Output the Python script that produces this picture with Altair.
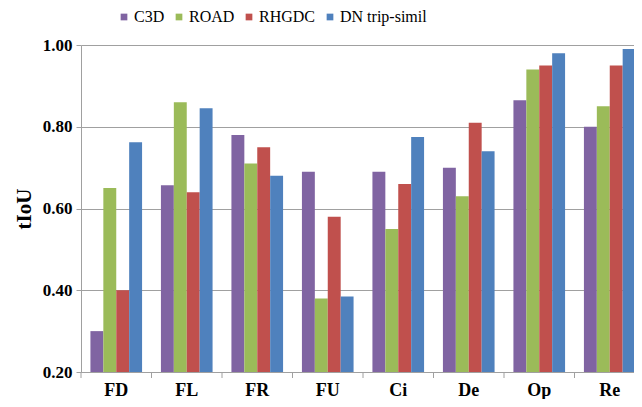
import altair as alt
import pandas as pd

categories = ["FD", "FL", "FR", "FU", "Ci", "De", "Op", "Re"]
series = ["C3D", "ROAD", "RHGDC", "DN trip-simil"]
c3d = [0.30, 0.657, 0.78, 0.69, 0.69, 0.70, 0.865, 0.80]
road = [0.65, 0.86, 0.71, 0.38, 0.55, 0.63, 0.94, 0.85]
rhgdc = [0.40, 0.64, 0.75, 0.58, 0.66, 0.81, 0.95, 0.95]
dn = [0.762, 0.845, 0.68, 0.385, 0.775, 0.74, 0.98, 0.99]
colors = ["#8064A2", "#9BBB59", "#C0504D", "#4F81BD"]

rows = []
for s, vals in zip(series, [c3d, road, rhgdc, dn]):
    for c, v in zip(categories, vals):
        rows.append({"cat": c, "series": s, "v": v})
df = pd.DataFrame(rows)
cat_df = pd.DataFrame({"cat": categories})

FONT = "Liberation Serif"
GRID = "#A0A0A0"
XRANGE = [0, 564]

bars = alt.Chart(df).mark_bar().encode(
    x=alt.X("cat:N", sort=categories, title=None,
            scale=alt.Scale(paddingInner=0, paddingOuter=0, range=XRANGE),
            axis=alt.Axis(labelFont=FONT, labelFontSize=18, labelFontWeight="bold",
                          labelColor="black", labelAngle=0, ticks=False, grid=False,
                          domainColor=GRID, labelPadding=9)),
    xOffset=alt.XOffset("series:N", sort=series,
                        scale=alt.Scale(paddingInner=0, paddingOuter=0.73)),
    y=alt.Y("v:Q", title="tIoU",
            scale=alt.Scale(domain=[0.2, 1.0], zero=False, nice=False),
            axis=alt.Axis(values=[0.2, 0.4, 0.6, 0.8, 1.0], format=".2f", grid=True,
                          labelFont=FONT, labelFontSize=17, labelFontWeight="bold",
                          labelColor="black", tickSize=5, tickColor=GRID,
                          domainColor=GRID, gridColor=GRID, labelPadding=4,
                          titleFont=FONT, titleFontSize=21, titleFontWeight="bold",
                          titleColor="black", titlePadding=8)),
    y2=alt.datum(0.2),
    color=alt.Color("series:N", sort=series,
                    scale=alt.Scale(domain=series, range=colors),
                    legend=alt.Legend(title=None, orient="none", direction="horizontal",
                                      legendX=35, legendY=-36, symbolType="square",
                                      symbolSize=45, symbolStrokeWidth=0,
                                      labelFont=FONT, labelFontSize=16,
                                      labelColor="black", labelOffset=2,
                                      columnPadding=6)),
)

ticks = alt.Chart(cat_df).mark_rule(color=GRID).encode(
    x=alt.X("cat:N", sort=categories, bandPosition=0, axis=None,
            scale=alt.Scale(paddingInner=0, paddingOuter=0, range=XRANGE)),
    y=alt.value(327),
    y2=alt.value(333),
)

chart = alt.layer(bars, ticks).resolve_scale(x="independent").properties(
    width=553, height=327,
    autosize=alt.AutoSizeParams(type="none"),
    padding={"left": 73, "top": 37, "right": 0, "bottom": 27},
).configure_view(stroke=None).configure_legend(labelFont=FONT, labelFontSize=16)

chart.save("out.html", embed_options={"renderer": "svg", "actions": False})
